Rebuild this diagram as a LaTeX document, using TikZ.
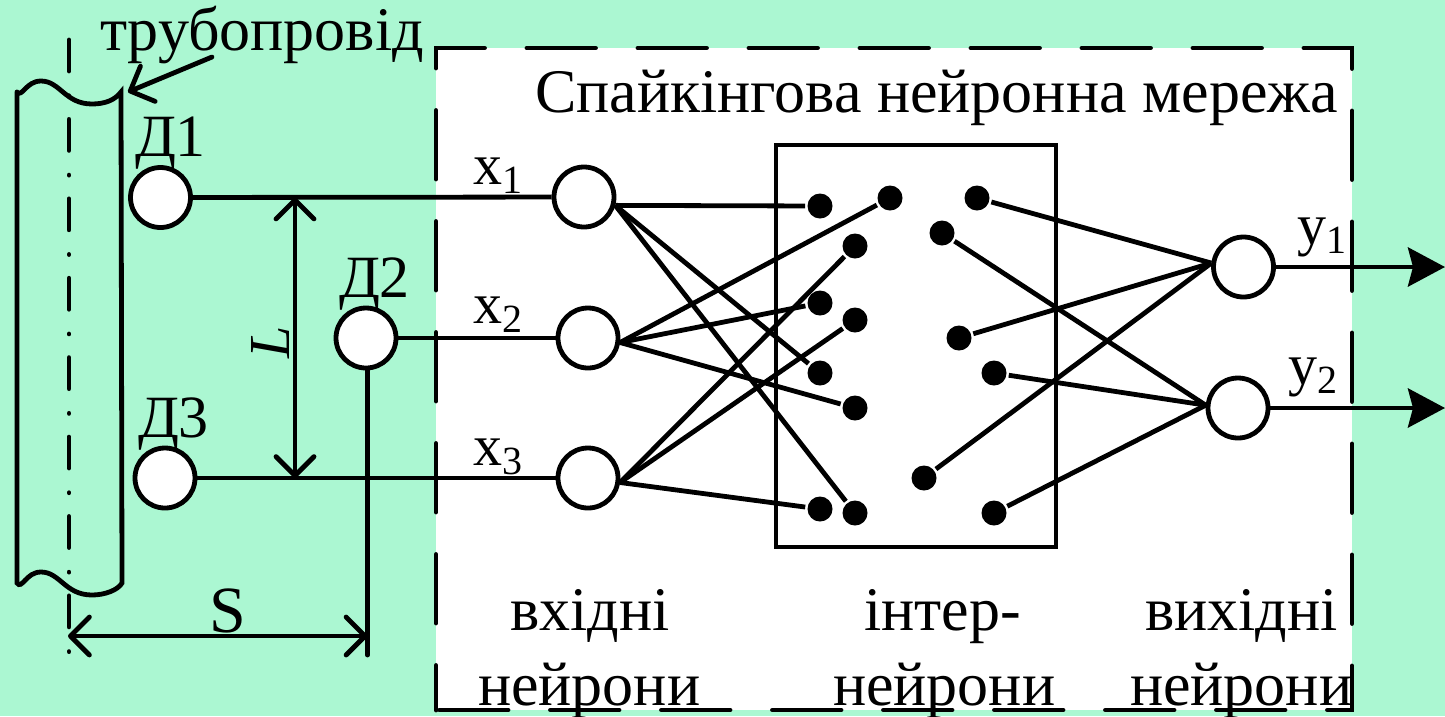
\documentclass[tikz,border=0pt]{standalone}
\usepackage{fontspec}
\setmainfont{Liberation Serif}
\usetikzlibrary{arrows.meta}
\definecolor{bggreen}{HTML}{ABF7D2}
\newcommand{\lowidx}[1]{\raisebox{-9pt}{\fontsize{40}{42}\selectfont #1}}

\begin{document}
\begin{tikzpicture}[
  x=1pt, y=-1pt,
  line width=4.8pt, line cap=round,
  lbl/.style={anchor=base west, inner sep=0pt, outer sep=0pt, font=\fontsize{62}{64}\selectfont},
  neuron/.style={draw, circle, fill=white, inner sep=0pt, minimum size=60pt},
  syn/.style={circle, fill=black, inner sep=0pt, minimum size=25pt},
  link/.style={line cap=butt},
  dimarr/.style={{Straight Barb[length=19pt,width=38pt,round]}-{Straight Barb[length=19pt,width=38pt,round]}},
  arr/.style={-{Straight Barb[length=19pt,width=38pt,round]}},
  outarr/.style={line cap=butt, -{Stealth[length=37pt,width=39pt,inset=5pt]}},
  axisline/.style={dash pattern=on 31pt off 24.7pt on 0.01pt off 23.7pt},
  framebox/.style={dash pattern=on 68.5pt off 42.5pt, dash phase=24pt}
]
\useasboundingbox (0,0) rectangle (1445,716);
\fill[bggreen] (0,0) rectangle (1445,716);
\fill[white] (436,48) rectangle (1352,710);

\draw[axisline] (69,40) -- (69,654);
\draw (17,92) -- (17,583) .. controls (22,590) and (26,572) .. (41,572) .. controls (60,572) and (65,595) .. (92,595) .. controls (105,595) and (118,590) .. (122,583) -- (121,92) .. controls (115,100) and (105,104) .. (92,104) .. controls (65,104) and (60,81) .. (41,81) .. controls (26,81) and (22,98) .. (17,92);
\draw (776,145) rectangle (1056,547);

\node[neuron] (d1) at (160.5,197.5) {};
\node[neuron] (d2) at (366,338) {};
\node[neuron] (d3) at (165,478) {};
\node[neuron] (x1) at (584,197) {};
\node[neuron] (x2) at (588,338) {};
\node[neuron] (x3) at (588,478) {};
\node[neuron] (y1) at (1243.5,267) {};
\node[neuron] (y2) at (1238,408) {};

\node[syn] (a) at (820,206) {};
\node[syn] (b) at (890,198) {};
\node[syn] (c) at (855,246) {};
\node[syn] (d) at (820,303) {};
\node[syn] (e) at (855,320) {};
\node[syn] (f) at (820,373) {};
\node[syn] (g) at (855,408) {};
\node[syn] (h) at (820,509) {};
\node[syn] (i) at (855,513) {};
\node[syn] (j) at (977,198) {};
\node[syn] (k) at (942,233) {};
\node[syn] (l) at (959,338) {};
\node[syn] (m) at (994,373) {};
\node[syn] (n) at (924,478) {};
\node[syn] (o) at (994,513) {};

\coordinate (pipefrom) at (212,57);
\coordinate (pipeend) at (128,92);
\coordinate (ltop) at (295,197.5);
\coordinate (lbot) at (295,478);
\coordinate (sleft) at (68,636);
\coordinate (sright) at (367.5,636);
\coordinate (sdrop) at (367.5,655);
\coordinate (y1end) at (1445,267);
\coordinate (y2end) at (1445,408);

\draw[link] (d1) -- (x1);
\draw[link] (d2) -- (x2);
\draw[link] (d3) -- (x3);
\draw[link] (x1.-15) -- (a);
\draw[link] (x1.-15) -- (f);
\draw[link] (x1.-15) -- (i);
\draw[link] (x2.-8) -- (b);
\draw[link] (x2.-8) -- (d);
\draw[link] (x2.-8) -- (g);
\draw[link] (x3.-8) -- (c);
\draw[link] (x3.-8) -- (e);
\draw[link] (x3.-8) -- (h);
\draw[link] (j) -- (y1.173);
\draw[link] (l) -- (y1.173);
\draw[link] (n) -- (y1.173);
\draw[link] (k) -- (y2.175);
\draw[link] (m) -- (y2.175);
\draw[link] (o) -- (y2.175);
\draw[outarr] (y1) -- (y1end);
\draw[outarr] (y2) -- (y2end);
\draw[arr] (pipefrom) -- (pipeend);
\draw[dimarr] (ltop) -- (lbot);
\draw[dimarr] (sleft) -- (sright);
\draw (d2.south -| sdrop) -- (sdrop);

\draw[framebox] (436,710) -- (436,48) -- (1352,48) -- (1352,710) -- (436,710);

\node[lbl] (pipelbl) at (100,50) {трубопровід};
\node[lbl] (title) at (535,112) {Спайкінгова нейронна мережа};
\node[lbl, font=\fontsize{60}{62}\selectfont] (d1lbl) at (135,156) {Д1};
\node[lbl, font=\fontsize{60}{62}\selectfont] (d2lbl) at (339,297) {Д2};
\node[lbl, font=\fontsize{60}{62}\selectfont] (d3lbl) at (138,437) {Д3};
\node[lbl, font=\fontsize{58}{60}\selectfont] (x1lbl) at (473,184) {x\lowidx{1}};
\node[lbl, font=\fontsize{58}{60}\selectfont] (x2lbl) at (473,323) {x\lowidx{2}};
\node[lbl, font=\fontsize{58}{60}\selectfont] (x3lbl) at (473,465) {x\lowidx{3}};
\node[lbl, font=\fontsize{58}{60}\selectfont] (y1lbl) at (1297,244) {y\lowidx{1}};
\node[lbl, font=\fontsize{58}{60}\selectfont] (y2lbl) at (1288,384) {y\lowidx{2}};
\node[lbl, rotate=90, font=\fontsize{58}{60}\selectfont\itshape] (llbl) at (289,358) {L};
\node[lbl, font=\fontsize{66}{68}\selectfont] (slbl) at (209,632) {S};
\node[lbl] (in1) at (510,630) {вхідні};
\node[lbl] (in2) at (478,705) {нейрони};
\node[lbl] (mid1) at (864,630) {інтер-};
\node[lbl] (mid2) at (833,705) {нейрони};
\node[lbl] (out1) at (1145,630) {вихідні};
\node[lbl] (out2) at (1130,705) {нейрони};
\end{tikzpicture}
\end{document}
